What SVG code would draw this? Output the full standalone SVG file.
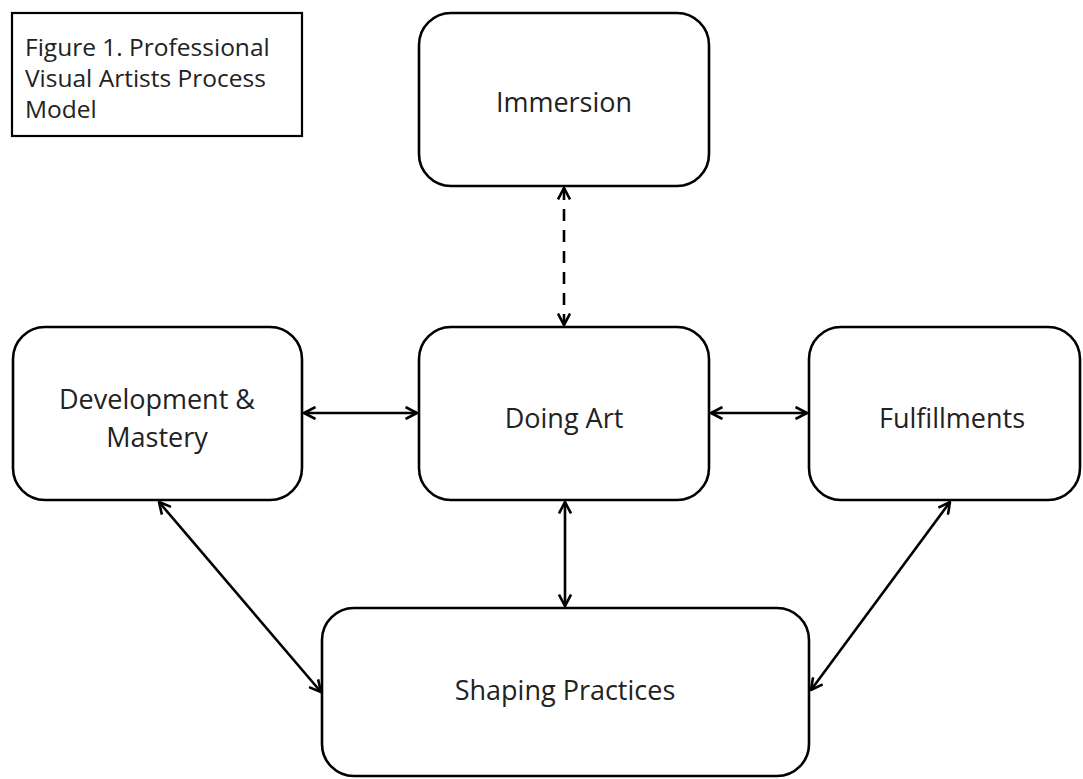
<svg xmlns="http://www.w3.org/2000/svg" width="1083" height="779" viewBox="0 0 1083 779">
  <defs>
    <style>
      .box { fill: #ffffff; stroke: #000000; stroke-width: 2.6; }
      .label { font-family: "Open Sans", Lato, "Liberation Sans", sans-serif; font-size: 27px; fill: #222222; text-anchor: middle; }
      .caption { font-family: "Open Sans", Lato, "Liberation Sans", sans-serif; font-size: 24.5px; fill: #222222; }
      .link { fill: none; stroke: #000000; stroke-width: 2.6; }
      .dashed { stroke-dasharray: 12 9; }
    </style>
    <!-- open chevron arrowhead, used at both ends of each link -->
    <marker id="arrow" viewBox="0 0 14 14" refX="13" refY="7" markerWidth="14" markerHeight="14" markerUnits="userSpaceOnUse" orient="auto-start-reverse">
      <path d="M1.5,1 L13,7 L1.5,13" fill="none" stroke="#000000" stroke-width="2.6" stroke-linejoin="miter"/>
    </marker>
  </defs>
  <rect width="1083" height="779" fill="#ffffff"/>

  <g id="caption">
    <rect x="12" y="13" width="290" height="123" fill="#ffffff" stroke="#000000" stroke-width="2.2"/>
    <text class="caption" x="25" y="56">Figure 1. Professional</text>
    <text class="caption" x="25" y="87">Visual Artists Process</text>
    <text class="caption" x="25" y="118">Model</text>
  </g>

  <g id="connectors">
    <line class="link dashed" x1="564" y1="188" x2="564" y2="325" marker-start="url(#arrow)" marker-end="url(#arrow)"/>
    <line class="link" x1="304" y1="413" x2="417" y2="413" marker-start="url(#arrow)" marker-end="url(#arrow)"/>
    <line class="link" x1="711" y1="413" x2="807" y2="413" marker-start="url(#arrow)" marker-end="url(#arrow)"/>
    <line class="link" x1="565" y1="502" x2="565" y2="606" marker-start="url(#arrow)" marker-end="url(#arrow)"/>
    <line class="link" x1="159" y1="502" x2="321" y2="692" marker-start="url(#arrow)" marker-end="url(#arrow)"/>
    <line class="link" x1="811" y1="690" x2="950" y2="502" marker-start="url(#arrow)" marker-end="url(#arrow)"/>
  </g>

  <g id="immersion">
    <rect class="box" x="419" y="13" width="290" height="173" rx="32" ry="32"/>
    <text class="label" x="564" y="112">Immersion</text>
  </g>

  <g id="doing-art">
    <rect class="box" x="419" y="327" width="290" height="173" rx="32" ry="32"/>
    <text class="label" x="564" y="428">Doing Art</text>
  </g>

  <g id="development-mastery">
    <rect class="box" x="13" y="327" width="289" height="173" rx="32" ry="32"/>
    <text class="label" x="157" y="409">Development &amp;</text>
    <text class="label" x="157" y="447">Mastery</text>
  </g>

  <g id="fulfillments">
    <rect class="box" x="809" y="327" width="271" height="173" rx="32" ry="32"/>
    <text class="label" x="952" y="428">Fulfillments</text>
  </g>

  <g id="shaping-practices">
    <rect class="box" x="322" y="608" width="487" height="168" rx="32" ry="32"/>
    <text class="label" x="565" y="700">Shaping Practices</text>
  </g>
</svg>
